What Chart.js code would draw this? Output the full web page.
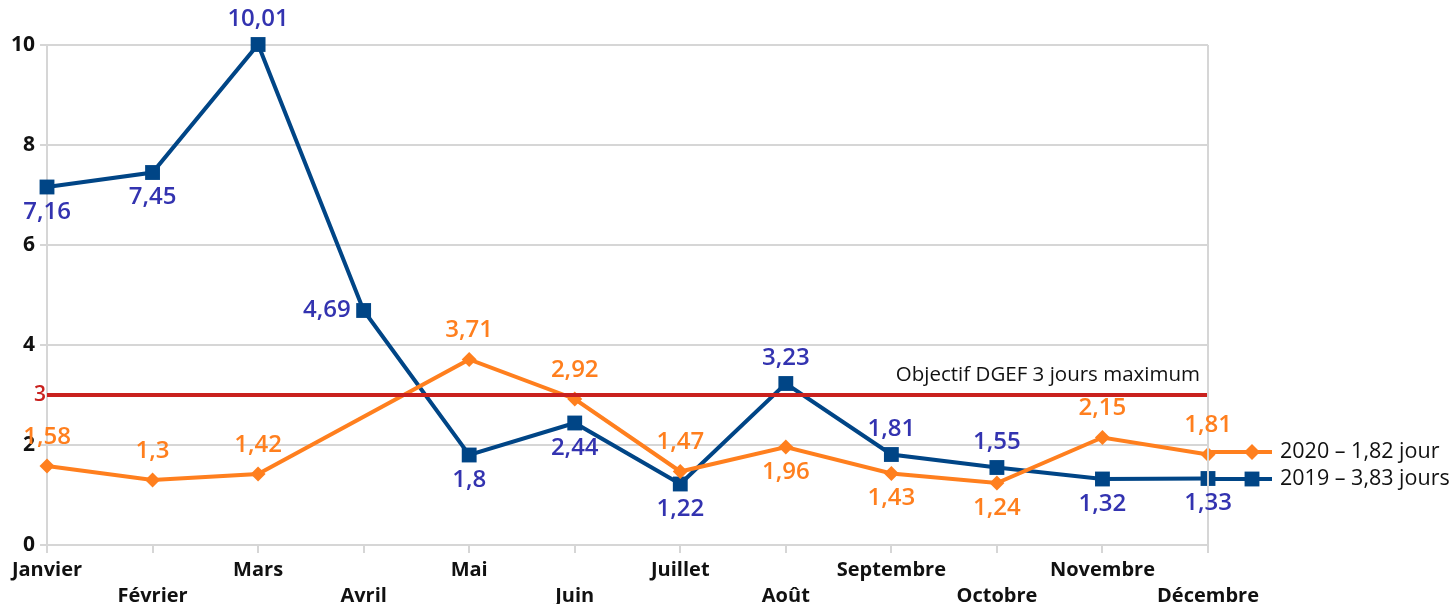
<!DOCTYPE html>
<html>
<head>
<meta charset="utf-8">
<script src="https://cdn.jsdelivr.net/npm/chart.js@4.4.1/dist/chart.umd.min.js"></script>
<style>
  html, body { margin: 0; padding: 0; background: #fff; }
  #wrap { width: 1454px; height: 604px; }
</style>
</head>
<body>
<div id="wrap"><canvas id="chart" width="1454" height="604"></canvas></div>
<script>
const months = ["Janvier", "Février", "Mars", "Avril", "Mai", "Juin", "Juillet", "Août", "Septembre", "Octobre", "Novembre", "Décembre"];
const values2019 = [7.16, 7.45, 10.01, 4.69, 1.8, 2.44, 1.22, 3.23, 1.81, 1.55, 1.32, 1.33];
const values2020 = [1.58, 1.3, 1.42, null, 3.71, 2.92, 1.47, 1.96, 1.43, 1.24, 2.15, 1.81];
const target = 3;
const yTicks = [0, 2, 4, 6, 8, 10];
const legend2019 = "2019 – 3,83 jours";
const legend2020 = "2020 – 1,82 jour";
const targetText = "Objectif DGEF 3 jours maximum";

// where each value label sits relative to its point
const pos2019 = ["below", "below", "above", "left", "below", "below", "below", "above", "above", "above", "below", "below"];
const pos2020 = ["above", "above", "above", null, "above", "above", "above", "below", "below", "below", "above", "above"];

const BLUE = "#004586";
const BLUE_TXT = "#3333b0";
const ORANGE = "#ff7f1e";
const RED = "#c9211e";
const GRID = "#d6d6d6";
const FONT = "'Open Sans', 'DejaVu Sans', sans-serif";

const fmt = v => String(v).replace(".", ",");

const labelsPlugin = {
    id: "labelsPlugin",
    afterDatasetsDraw(chart) {
        const ctx = chart.ctx;
        const area = chart.chartArea;
        const y = chart.scales.y;

        // right border of the plot
        ctx.save();
        ctx.strokeStyle = GRID;
        ctx.lineWidth = 2;
        ctx.beginPath();
        ctx.moveTo(area.right, area.top);
        ctx.lineTo(area.right, area.bottom);
        ctx.stroke();

        // value labels
        ctx.font = "600 24px " + FONT;
        ctx.textBaseline = "middle";
        const sets = [
            { idx: 1, pos: pos2020, vals: values2020, color: ORANGE, up: 29 },
            { idx: 2, pos: pos2019, vals: values2019, color: BLUE_TXT, up: 25 }
        ];
        sets.forEach(s => {
            const meta = chart.getDatasetMeta(s.idx);
            ctx.fillStyle = s.color;
            meta.data.forEach((pt, i) => {
                const v = s.vals[i];
                if (v === null || !s.pos[i]) return;
                if (s.pos[i] === "left") {
                    ctx.textAlign = "right";
                    ctx.fillText(fmt(v), pt.x - 13, pt.y);
                } else {
                    ctx.textAlign = "center";
                    const dy = s.pos[i] === "above" ? -s.up : 25;
                    ctx.fillText(fmt(v), pt.x, pt.y + dy);
                }
            });
        });

        // target label on the axis and caption
        const ty = y.getPixelForValue(target);
        ctx.fillStyle = RED;
        ctx.font = "600 21px " + FONT;
        ctx.textAlign = "right";
        ctx.fillText(String(target), 46, ty);

        ctx.fillStyle = "#111";
        ctx.font = "20.5px " + FONT;
        ctx.fillText(targetText, area.right - 8, ty - 20);

        // legend
        const items = [
            { text: legend2020, color: ORANGE, y: 452, style: "rectRot", r: 8 },
            { text: legend2019, color: BLUE, y: 479, style: "rect", r: 10.5 }
        ];
        items.forEach(it => {
            ctx.strokeStyle = it.color;
            ctx.lineWidth = 4;
            ctx.beginPath();
            ctx.moveTo(area.right + 2, it.y);
            ctx.lineTo(1272, it.y);
            ctx.stroke();
            ctx.fillStyle = it.color;
            Chart.helpers.drawPoint(ctx, { pointStyle: it.style, radius: it.r, borderWidth: 0 }, 1252, it.y);
            ctx.fillStyle = "#111";
            ctx.textAlign = "left";
            ctx.font = "21.5px " + FONT;
            ctx.fillText(it.text, 1280, it.y);
        });
        ctx.restore();
    }
};

const ctx = document.getElementById("chart").getContext("2d");

const chart = new Chart(ctx, {
    type: "line",
    data: {
        labels: months.map((m, i) => i % 2 === 0 ? [m] : ["", m]),
        datasets: [
            {
                label: "Objectif",
                data: months.map(() => target),
                borderColor: RED,
                borderWidth: 4,
                pointRadius: 0,
                order: 0
            },
            {
                label: legend2020,
                data: values2020,
                borderColor: ORANGE,
                backgroundColor: ORANGE,
                borderWidth: 4,
                pointStyle: "rectRot",
                pointRadius: 7.5,
                pointBorderWidth: 0,
                spanGaps: true,
                clip: false,
                order: 1
            },
            {
                label: legend2019,
                data: values2019,
                borderColor: BLUE,
                backgroundColor: BLUE,
                borderWidth: 4,
                pointStyle: "rect",
                pointRadius: 10.5,
                pointBorderWidth: 0,
                clip: false,
                order: 2
            }
        ]
    },
    options: {
        responsive: false,
        animation: false,
        layout: { padding: { top: 45, right: 246, left: 0, bottom: 0 } },
        plugins: {
            legend: { display: false },
            tooltip: { enabled: false }
        },
        elements: { line: { tension: 0 } },
        scales: {
            x: {
                offset: false,
                grid: { drawOnChartArea: false, drawTicks: true, tickLength: 8, color: GRID, lineWidth: 2 },
                border: { color: GRID, width: 2 },
                ticks: {
                    autoSkip: false,
                    maxRotation: 0,
                    minRotation: 0,
                    padding: 4,
                    color: "#111",
                    font: { family: FONT, size: 20, weight: "bold", lineHeight: 1.3 }
                },
                afterFit: s => { s.height = 59; }
            },
            y: {
                min: 0,
                max: 10,
                afterBuildTicks: s => { s.ticks = yTicks.map(v => ({ value: v })); },
                grid: { color: GRID, lineWidth: 2, tickLength: 7 },
                border: { color: GRID, width: 2 },
                ticks: {
                    padding: 5,
                    color: "#111",
                    font: { family: FONT, size: 21, weight: "bold" }
                },
                afterFit: s => { s.width = 47; }
            }
        }
    },
    plugins: [labelsPlugin]
});
</script>
</body>
</html>
